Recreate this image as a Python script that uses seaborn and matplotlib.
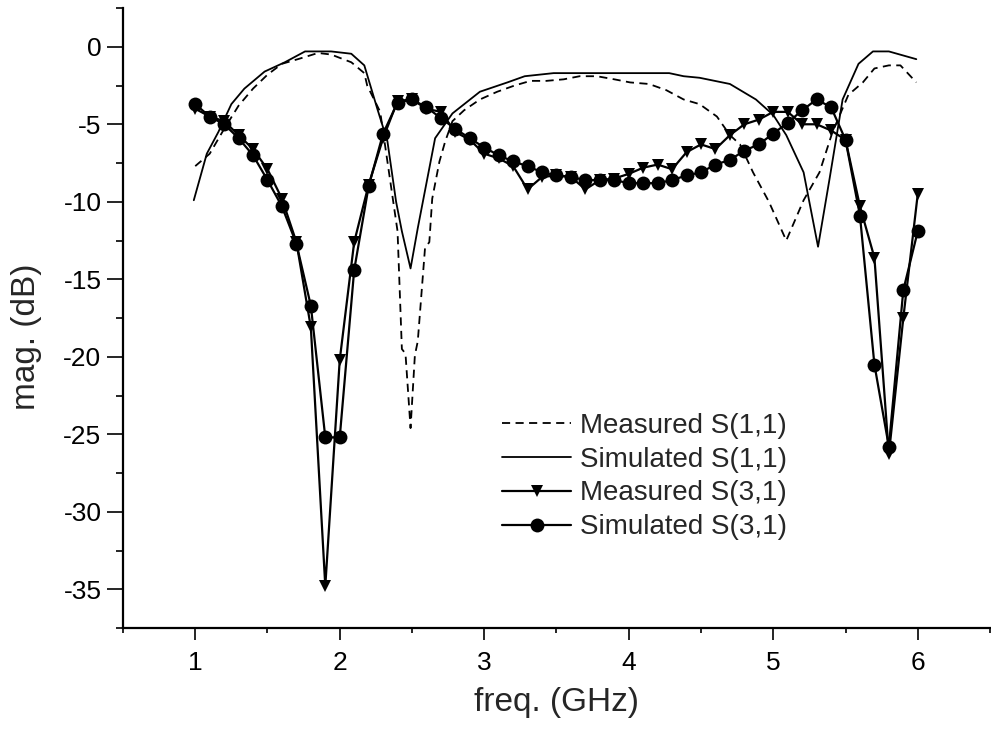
import numpy as np
import seaborn as sns
import matplotlib.pyplot as plt
from matplotlib.ticker import MultipleLocator

# S(3,1) traces are sampled every 0.1 GHz from 1 to 6 GHz
freq_31 = np.round(np.arange(1.0, 6.01, 0.1), 1)

sim_s31 = [-3.7, -4.5, -5.0, -5.9, -7.0, -8.6, -10.3, -12.7, -16.7, -25.2,
           -25.2, -14.4, -9.0, -5.6, -3.6, -3.4, -3.9, -4.6, -5.3, -5.9,
           -6.5, -7.0, -7.4, -7.7, -8.1, -8.3, -8.4, -8.6, -8.6, -8.6,
           -8.8, -8.8, -8.8, -8.6, -8.3, -8.1, -7.6, -7.3, -6.7, -6.3,
           -5.6, -4.9, -4.1, -3.4, -3.9, -6.0, -10.9, -20.5, -25.8, -15.7,
           -11.9]

meas_s31 = [-4.0, -4.5, -4.8, -5.7, -6.6, -7.9, -9.8, -12.6, -18.1, -34.8,
            -20.2, -12.6, -8.9, -5.9, -3.5, -3.4, -4.0, -4.2, -5.5, -6.0,
            -6.9, -7.2, -7.7, -9.2, -8.4, -8.3, -8.4, -9.2, -8.6, -8.5,
            -8.2, -7.8, -7.6, -7.9, -6.8, -6.3, -6.6, -5.7, -5.0, -4.7,
            -4.2, -4.2, -5.0, -5.0, -5.4, -6.0, -10.3, -13.6, -26.3, -17.5,
            -9.5]

# S(1,1) traces (denser near the dips)
freq_meas_s11 = [1.0, 1.1, 1.2, 1.3, 1.4, 1.5, 1.6, 1.71, 1.85, 1.94,
                 2.08, 2.17, 2.19, 2.28, 2.40, 2.43, 2.455, 2.49, 2.52, 2.54,
                 2.59, 2.62, 2.64, 2.69, 2.73, 2.78, 2.86, 2.97, 3.09, 3.21,
                 3.32, 3.43, 3.55, 3.66, 3.78, 3.90, 4.01, 4.14, 4.26, 4.38,
                 4.49, 4.61, 4.70, 4.77, 4.86, 4.97, 5.09, 5.21, 5.32, 5.41,
                 5.52, 5.62, 5.70, 5.80, 5.88, 5.99]
meas_s11 = [-7.7, -6.9, -5.3, -3.8, -2.7, -1.8, -1.1, -0.8, -0.4, -0.5,
            -1.0, -1.7, -2.5, -4.2, -11.9, -19.5, -19.8, -24.6, -19.9, -19.0,
            -13.0, -12.6, -9.8, -7.4, -6.1, -4.8, -4.1, -3.4, -2.9, -2.5,
            -2.2, -2.2, -2.1, -1.9, -1.9, -2.1, -2.3, -2.4, -2.8, -3.4,
            -3.7, -4.5, -5.7, -6.3, -8.1, -10.0, -12.5, -9.9, -8.1, -5.5,
            -3.1, -2.3, -1.4, -1.2, -1.2, -2.3]

freq_sim_s11 = [0.99, 1.08, 1.16, 1.25, 1.34, 1.48, 1.62, 1.76, 1.94, 2.08,
                2.17, 2.26, 2.33, 2.39, 2.43, 2.49, 2.54, 2.66, 2.78, 2.97,
                3.16, 3.28, 3.48, 4.28, 4.38, 4.49, 4.70, 4.88, 5.0, 5.09,
                5.21, 5.31, 5.39, 5.48, 5.59, 5.69, 5.80, 5.99]
sim_s11 = [-9.9, -6.9, -5.5, -3.7, -2.7, -1.6, -1.0, -0.3, -0.3, -0.45,
           -1.2, -4.0, -6.1, -10.0, -11.9, -14.3, -11.7, -5.9, -4.3, -2.9,
           -2.3, -1.9, -1.7, -1.7, -1.9, -2.0, -2.4, -3.4, -4.4, -5.7,
           -8.1, -12.9, -8.5, -3.4, -1.1, -0.3, -0.3, -0.8]

sns.set_style("ticks")
plt.rcParams["font.family"] = ["Liberation Sans", "DejaVu Sans"]
plt.rcParams["axes.unicode_minus"] = False

fig = plt.figure(figsize=(9.91, 7.36), dpi=100)
ax = fig.add_axes([0.1241, 0.1467, 0.8749, 0.8424])

sns.lineplot(x=freq_meas_s11, y=meas_s11, ax=ax, color="black", lw=1.3,
             linestyle=(0, (4.5, 3)), sort=False, estimator=None,
             label="Measured S(1,1)")
sns.lineplot(x=freq_sim_s11, y=sim_s11, ax=ax, color="black", lw=1.3,
             sort=False, estimator=None, label="Simulated S(1,1)")
sns.lineplot(x=freq_31, y=meas_s31, ax=ax, color="black", lw=1.6,
             marker="v", markersize=8, markeredgewidth=0,
             sort=False, estimator=None, label="Measured S(3,1)")
sns.lineplot(x=freq_31, y=sim_s31, ax=ax, color="black", lw=1.6,
             marker="o", markersize=10, markeredgewidth=0,
             sort=False, estimator=None, label="Simulated S(3,1)")

ax.set_xlim(0.5, 6.5)
ax.set_ylim(-37.5, 2.5)
ax.xaxis.set_major_locator(MultipleLocator(1))
ax.xaxis.set_minor_locator(MultipleLocator(0.5))
ax.yaxis.set_major_locator(MultipleLocator(5))
ax.yaxis.set_minor_locator(MultipleLocator(2.5))

sns.despine(ax=ax)
for side in ["left", "bottom"]:
    ax.spines[side].set_linewidth(1.6)
    ax.spines[side].set_color("black")

ax.tick_params(axis="both", which="both", direction="out", color="black",
               width=1.2, labelsize=19, labelcolor="black")
ax.tick_params(axis="y", which="major", length=11.5, pad=4)
ax.tick_params(axis="y", which="minor", length=5)
ax.tick_params(axis="x", which="major", length=8.5, pad=8)
ax.tick_params(axis="x", which="minor", length=3.5)

ax.set_xlabel("freq. (GHz)", fontsize=24)
ax.set_ylabel("mag. (dB)", fontsize=24)
ax.xaxis.set_label_coords(0.5, -0.095)
ax.yaxis.set_label_coords(-0.093, 0.47)

leg = ax.legend(loc="upper left", bbox_to_anchor=(0.5066, 0.439),
                bbox_transform=fig.transFigure, frameon=False, fontsize=20,
                handlelength=2.5, handletextpad=0.3, labelspacing=0.28,
                borderpad=0, borderaxespad=0)
for h in leg.legend_handles:
    h.set_color("black")

fig.savefig("out.png", dpi=100)
